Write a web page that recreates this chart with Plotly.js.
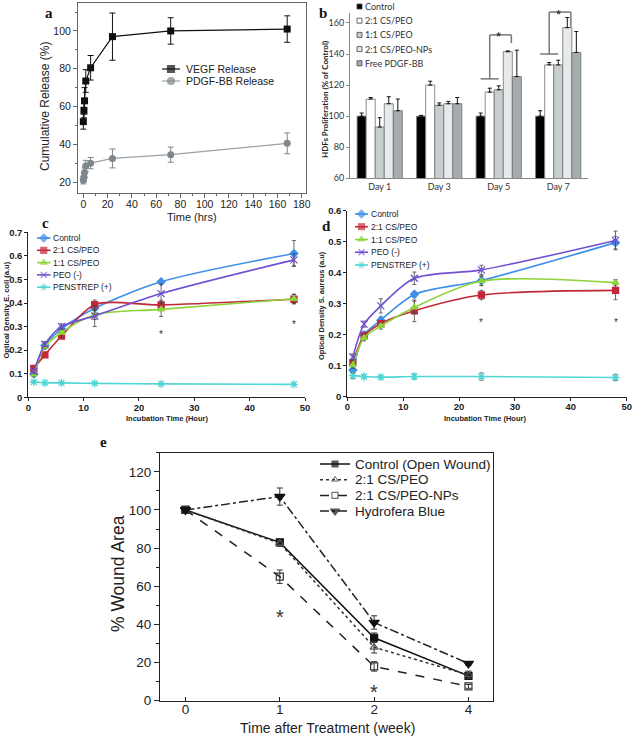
<!DOCTYPE html>
<html>
<head>
<meta charset="utf-8">
<script src="https://cdn.plot.ly/plotly-3.0.1.min.js"></script>
<style>
  html, body { margin: 0; padding: 0; background: #fff; }
  #fig { width: 634px; height: 739px; }
</style>
</head>
<body>
<div id="fig"></div>
<script>
// ---- a: cumulative growth factor release ----
const releaseHours = [0, 0.5, 1, 2, 6, 24, 72, 168];
const vegfRelease = [52, 58, 63, 73.5, 80.5, 97, 100, 101];
const vegfErr = [4, 4, 7, 6, 6.5, 12.5, 7, 7];
const pdgfRelease = [21, 22.5, 25, 28.5, 30, 32.5, 34.5, 40.5];
const pdgfErr = [2, 2, 2.5, 3, 3, 5, 4, 5.5];

// ---- b: HDF proliferation ----
const dayLabels = ['Day 1', 'Day 3', 'Day 5', 'Day 7'];
const hdfNames = ['Control', '2:1 CS/PEO', '1:1 CS/PEO', '2:1 CS/PEO-NPs', 'Free PDGF-BB'];
const hdfControl = [100, 100, 100, 100];
const hdfControlErr = [2, 0.5, 2, 3.5];
const hdfCs21 = [111, 120, 115.5, 133];
const hdfCs21Err = [1, 2.5, 2.5, 1.5];
const hdfCs11 = [93, 107, 117, 133];
const hdfCs11Err = [6, 1.5, 2.5, 3];
const hdfNps = [108, 108, 141.5, 157];
const hdfNpsErr = [4.5, 1.5, 0.5, 6.5];
const hdfFree = [103.5, 108, 125.5, 141];
const hdfFreeErr = [7.5, 4, 17, 13.5];

// ---- c / d: bacterial growth ----
const incubHours = [1, 3, 6, 12, 24, 48];
const bactNames = ['Control', '2:1 CS/PEO', '1:1 CS/PEO', 'PEO (-)', 'PENSTREP (+)'];
const ecoliControl = [0.10, 0.22, 0.29, 0.378, 0.49, 0.61];
const ecoliControlErr = [0.01, 0.01, 0.015, 0.02, 0.01, 0.055];
const ecoliCs21 = [0.123, 0.18, 0.26, 0.393, 0.392, 0.416];
const ecoliCs21Err = [0.01, 0.008, 0.01, 0.02, 0.02, 0.02];
const ecoliCs11 = [0.097, 0.215, 0.275, 0.35, 0.373, 0.418];
const ecoliCs11Err = [0.01, 0.01, 0.02, 0.02, 0.03, 0.02];
const ecoliPeo = [0.11, 0.225, 0.30, 0.345, 0.44, 0.583];
const ecoliPeoErr = [0.01, 0.01, 0.012, 0.045, 0.04, 0.025];
const ecoliPen = [0.065, 0.062, 0.061, 0.059, 0.057, 0.055];
const ecoliPenErr = [0.005, 0.004, 0.004, 0.004, 0.004, 0.005];

const saurControl = [0.086, 0.20, 0.247, 0.33, 0.375, 0.497];
const saurControlErr = [0.005, 0.01, 0.01, 0.01, 0.015, 0.02];
const saurCs21 = [0.11, 0.196, 0.236, 0.277, 0.328, 0.343];
const saurCs21Err = [0.01, 0.01, 0.01, 0.035, 0.015, 0.03];
const saurCs11 = [0.102, 0.19, 0.228, 0.288, 0.373, 0.368];
const saurCs11Err = [0.01, 0.01, 0.01, 0.02, 0.015, 0.01];
const saurPeo = [0.128, 0.234, 0.293, 0.382, 0.409, 0.504];
const saurPeoErr = [0.01, 0.01, 0.023, 0.02, 0.015, 0.03];
const saurPen = [0.068, 0.065, 0.063, 0.065, 0.065, 0.062];
const saurPenErr = [0.01, 0.005, 0.005, 0.008, 0.012, 0.01];

// ---- e: wound closure ----
const woundWeeks = ['0', '1', '2', '4'];
const woundNames = ['Control (Open Wound)', '2:1 CS/PEO', '2:1 CS/PEO-NPs', 'Hydrofera Blue'];
const woundControl = [100, 83, 33, 13];
const woundControlErr = [0, 1, 2.5, 1.5];
const woundCs21 = [100, 82.5, 28, 13.5];
const woundCs21Err = [0, 1.5, 3, 2];
const woundNps = [100, 65, 18, 7.5];
const woundNpsErr = [0, 3.5, 2.5, 1];
const woundHydro = [100, 107, 41, 19.5];
const woundHydroErr = [0, 4.5, 3.5, 1];

const W = 634, H = 739;
function pxX(x) { return x / W; }
function pxY(y) { return 1 - y / H; }

const SANS = 'Liberation Sans, Arial, sans-serif';
const CAL = 'Lato, Open Sans, sans-serif';
const bactColors = ['#3f8fe8', '#c2283a', '#8cd43a', '#7050d0', '#50d6d6'];
const bactSymbols = ['diamond', 'square', 'triangle-up', 'x-thin-open', 'asterisk-open'];
const hdfColors = ['#000000', '#ffffff', '#c8cecf', '#e6eaea', '#a4acad'];

var traces = [];

// panel a
traces.push({
  x: releaseHours, y: vegfRelease, xaxis: 'x', yaxis: 'y', mode: 'lines+markers',
  line: {color: '#111', width: 1.2}, marker: {symbol: 'square', size: 7, color: '#111'},
  error_y: {type: 'data', array: vegfErr, color: '#111', thickness: 1, width: 3}
});
traces.push({
  x: releaseHours, y: pdgfRelease, xaxis: 'x', yaxis: 'y', mode: 'lines+markers',
  line: {color: '#9aa0a3', width: 1.2}, marker: {symbol: 'circle', size: 7, color: '#7d878c'},
  error_y: {type: 'data', array: pdgfErr, color: '#7d878c', thickness: 1, width: 3}
});

// panel b
const hdfVals = [hdfControl, hdfCs21, hdfCs11, hdfNps, hdfFree];
const hdfErrs = [hdfControlErr, hdfCs21Err, hdfCs11Err, hdfNpsErr, hdfFreeErr];
hdfNames.forEach(function (n, i) {
  traces.push({
    type: 'bar', name: n, x: dayLabels, y: hdfVals[i], xaxis: 'x2', yaxis: 'y2',
    marker: {color: hdfColors[i], line: {color: '#707070', width: 0.8}},
    error_y: {type: 'data', symmetric: false, array: hdfErrs[i], arrayminus: hdfErrs[i].map(function () { return 0; }),
              color: '#111', thickness: 1, width: 2}
  });
});

// panel c and d
function bactTraces(vals, errs, xa, ya) {
  vals.forEach(function (v, i) {
    traces.push({
      x: incubHours, y: v, xaxis: xa, yaxis: ya, mode: 'lines+markers',
      line: {color: bactColors[i], width: 1.6, shape: 'spline', smoothing: 0.8},
      marker: {symbol: bactSymbols[i], size: i === 3 || i === 4 ? 7 : 6, color: bactColors[i],
               line: {color: bactColors[i], width: 1.3}},
      error_y: {type: 'data', array: errs[i], color: '#444', thickness: 0.8, width: 2}
    });
  });
}
bactTraces([ecoliControl, ecoliCs21, ecoliCs11, ecoliPeo, ecoliPen],
           [ecoliControlErr, ecoliCs21Err, ecoliCs11Err, ecoliPeoErr, ecoliPenErr], 'x3', 'y3');
bactTraces([saurControl, saurCs21, saurCs11, saurPeo, saurPen],
           [saurControlErr, saurCs21Err, saurCs11Err, saurPeoErr, saurPenErr], 'x4', 'y4');

// panel e
const woundVals = [woundControl, woundCs21, woundNps, woundHydro];
const woundErrs = [woundControlErr, woundCs21Err, woundNpsErr, woundHydroErr];
const woundDash = ['solid', 'dot', 'dash', 'dashdot'];
const woundSymbols = ['square', 'triangle-up-open', 'square-open', 'triangle-down'];
const woundLineColors = ['#111', '#333', '#222', '#222'];
const woundMarkColors = ['#111', '#555', '#333', '#111'];
woundVals.forEach(function (v, i) {
  traces.push({
    x: woundWeeks, y: v, xaxis: 'x5', yaxis: 'y5', mode: 'lines+markers',
    line: {color: woundLineColors[i], width: 1.5, dash: woundDash[i]},
    marker: {symbol: woundSymbols[i], size: i === 3 ? 9 : 7, color: woundMarkColors[i],
             line: {color: woundMarkColors[i], width: 1.2}},
    error_y: {type: 'data', array: woundErrs[i], color: '#333', thickness: 1, width: 3}
  });
});

// ---- hand-made legends on a full-page overlay axis (pixel units) ----
var annotations = [];
function txt(text, x, y, size, opts) {
  annotations.push(Object.assign({
    text: text, x: x, y: y, xref: 'x6', yref: 'y6', showarrow: false,
    font: {family: SANS, size: size, color: '#222'}, xanchor: 'left', yanchor: 'middle'
  }, opts || {}));
}
function legendSample(x0, x1, y, color, width, dash, symbol, size, mcolor) {
  traces.push({
    x: [x0, (x0 + x1) / 2, x1], y: [y, y, y], xaxis: 'x6', yaxis: 'y6', mode: 'lines+markers',
    line: {color: color, width: width, dash: dash},
    marker: {symbol: symbol, size: [0, size, 0], color: mcolor, line: {color: mcolor, width: 1.2}},
    hoverinfo: 'skip'
  });
}

// legend a
legendSample(162, 180, 69, '#111', 1.2, 'solid', 'square', 7, '#111');
legendSample(162, 180, 81, '#9aa0a3', 1.2, 'solid', 'circle', 7, '#7d878c');
txt('VEGF Release', 184, 69, 10.5);
txt('PDGF-BB Release', 184, 81, 10.5);

// legend b
hdfNames.forEach(function (n, i) {
  var y = 6.5 + i * 14.2;
  traces.push({
    x: [359.5], y: [y], xaxis: 'x6', yaxis: 'y6', mode: 'markers', hoverinfo: 'skip',
    marker: {symbol: 'square', size: 5, color: hdfColors[i], line: {color: '#444', width: 0.8}}
  });
  txt(n, 363, y, 9, {font: {family: CAL, size: 9, color: '#333'}});
});

// legends c and d
bactNames.forEach(function (n, i) {
  var yc = 238 + i * 12.3;
  legendSample(37, 50.5, yc, bactColors[i], 1.6, 'solid', bactSymbols[i], 6, bactColors[i]);
  txt(n, 50.5, yc, 8.5);
  var yd = 214 + i * 12.75;
  legendSample(355, 368, yd, bactColors[i], 1.6, 'solid', bactSymbols[i], 6, bactColors[i]);
  txt(n, 368.5, yd, 8.5);
});

// legend e
woundNames.forEach(function (n, i) {
  var y = 464 + i * 15.7;
  legendSample(320, 350, y, woundLineColors[i], 1.5, woundDash[i], woundSymbols[i], i === 3 ? 8 : 6, woundMarkColors[i]);
  txt(n, 353, y, 13.5);
});

// axis titles and panel letters
txt('Time (hrs)', 192, 217, 11, {xanchor: 'center'});
txt('Cumulative Release (%)', 45, 107, 12, {xanchor: 'center', textangle: -90});
txt('<b>HDFs Proliferation (% of Control)</b>', 325, 100, 8, {xanchor: 'center', textangle: -90, font: {family: CAL, size: 8, color: '#222'}});
txt('<b>Incubation Time (Hour)</b>', 167, 418, 7.5, {xanchor: 'center'});
txt('<b>Optical Density E. coli (a.u)</b>', 5.5, 310, 7.5, {xanchor: 'center', textangle: -90});
txt('<b>Incubation Time (Hour)</b>', 485, 418, 7.5, {xanchor: 'center'});
txt('<b>Optical Density S. aureus (a.u)</b>', 321, 306, 7.5, {xanchor: 'center', textangle: -90});
txt('Time after Treatment (week)', 327, 728, 14, {xanchor: 'center'});
txt('% Wound Area', 118, 574, 17.5, {xanchor: 'center', textangle: -90});
var LETTER = {family: 'Liberation Serif, serif', size: 15, color: '#111', weight: 'bold'};
txt('a', 49, 13, 15, {xanchor: 'center', font: LETTER});
txt('b', 323, 13, 15, {xanchor: 'center', font: LETTER});
txt('c', 45, 223, 15, {xanchor: 'center', font: LETTER});
txt('d', 326, 226, 15, {xanchor: 'center', font: LETTER});
txt('e', 103, 442, 15, {xanchor: 'center', font: LETTER});

// significance marks
function star(x, y, xa, ya, size) {
  annotations.push({text: '*', x: x, y: y, xref: xa, yref: ya, showarrow: false,
    font: {family: SANS, size: size, color: '#333'}, yshift: -size * 0.22});
}
star(24, 0.275, 'x3', 'y3', 10);
star(48, 0.32, 'x3', 'y3', 10);
star(24, 0.245, 'x4', 'y4', 10);
star(48, 0.245, 'x4', 'y4', 10);
star('1', 46, 'x5', 'y5', 20);
star('2', 7, 'x5', 'y5', 20);

// brackets in panel b (bar offsets within a group of 5, bargap 0.24)
const B_RANGE = [60, 166.4];
const barW = 0.76 / 5;
function barOff(i) { return -0.38 + barW * (i + 0.5); }
function dom(v) { return (v - B_RANGE[0]) / (B_RANGE[1] - B_RANGE[0]); }
const sigDay = [2, 3];
const sigLow = [124, 140];
const sigHigh = [152.3, 167];
const sigEnd = [147, 157];
const sigStar = [157.5, 171.5];
var shapes = [];
sigDay.forEach(function (d, k) {
  var xa = d + barOff(0), xb = d + barOff(2), xv = d + barOff(1), xr = d + barOff(3) + 0.06;
  var segs = [[xa, sigLow[k], xb, sigLow[k]], [xv, sigLow[k], xv, sigHigh[k]],
              [xv, sigHigh[k], xr, sigHigh[k]], [xr, sigHigh[k], xr, sigEnd[k]]];
  segs.forEach(function (s) {
    shapes.push({type: 'line', xref: 'x2', yref: 'y2 domain', x0: s[0], y0: dom(s[1]), x1: s[2], y1: dom(s[3]),
                 line: {color: '#777', width: 1.5}});
  });
  annotations.push({text: '*', x: d + barOff(2), y: dom(sigStar[k]), xref: 'x2', yref: 'y2 domain',
    showarrow: false, font: {family: SANS, size: 13, color: '#222'}});
});

function ax(extra) {
  return Object.assign({showgrid: false, zeroline: false, showline: true, linewidth: 1,
    ticks: 'outside', fixedrange: true}, extra);
}
const fA = {family: SANS, size: 10.5, color: '#222'};
const fB = {family: CAL, size: 9, color: '#333'};
const fC = {family: SANS, size: 9.5, color: '#222', weight: 'bold'};
const fE = {family: SANS, size: 13.5, color: '#222'};

var layout = {
  width: W, height: H, margin: {l: 0, r: 0, t: 0, b: 0},
  paper_bgcolor: '#fff', plot_bgcolor: 'rgba(0,0,0,0)', showlegend: false,
  barmode: 'group', bargap: 0.24, bargroupgap: 0,
  xaxis: ax({domain: [pxX(78), pxX(306)], anchor: 'y', range: [-4.4, 183.5], tick0: 0, dtick: 20,
    mirror: true, linecolor: '#666', tickcolor: '#666', ticklen: 4, tickfont: fA, ticklabelstandoff: -3,
    minor: {ticks: 'outside', ticklen: 2, dtick: 10, tickcolor: '#666'}}),
  yaxis: ax({domain: [pxY(193), pxY(3)], anchor: 'x', range: [14.2, 114.8], tick0: 0, dtick: 20,
    mirror: true, linecolor: '#666', tickcolor: '#666', ticklen: 4, tickfont: fA,
    minor: {ticks: 'outside', ticklen: 2, dtick: 10, tickcolor: '#666'}}),
  xaxis2: ax({domain: [pxX(350), pxX(588)], anchor: 'y2', type: 'category', range: [-0.5, 3.5],
    ticks: '', linecolor: '#888', tickfont: fB}),
  yaxis2: ax({domain: [pxY(178.3), pxY(13)], anchor: 'x2', range: B_RANGE, tick0: 0, dtick: 20,
    linecolor: '#888', tickcolor: '#888', ticklen: 3, tickfont: fB}),
  xaxis3: ax({domain: [pxX(28.3), pxX(305)], anchor: 'y3', range: [0, 50], dtick: 10,
    linecolor: '#222', tickcolor: '#222', ticklen: 3, tickfont: fC, ticklabelstandoff: -2}),
  yaxis3: ax({domain: [pxY(397.3), pxY(232.3)], anchor: 'x3', range: [0, 0.7], dtick: 0.1,
    linecolor: '#222', tickcolor: '#222', ticklen: 3, tickfont: fC}),
  xaxis4: ax({domain: [pxX(347.3), pxX(626.7)], anchor: 'y4', range: [0, 50], dtick: 10,
    linecolor: '#222', tickcolor: '#222', ticklen: 3, tickfont: fC, ticklabelstandoff: -2}),
  yaxis4: ax({domain: [pxY(396.7), pxY(210.7)], anchor: 'x4', range: [0, 0.6], dtick: 0.1,
    linecolor: '#222', tickcolor: '#222', ticklen: 3, tickfont: fC}),
  xaxis5: ax({domain: [pxX(160), pxX(493)], anchor: 'y5', type: 'category', range: [-0.27, 3.26],
    mirror: true, linecolor: '#222', tickcolor: '#222', ticks: 'inside', ticklen: 4, tickfont: fE,
    ticklabelstandoff: -4}),
  yaxis5: ax({domain: [pxY(700.7), pxY(452.7)], anchor: 'x5', range: [0, 130], tick0: 0, dtick: 20,
    mirror: true, linecolor: '#222', tickcolor: '#222', ticklen: 5, tickfont: fE,
    minor: {ticks: 'outside', ticklen: 3, dtick: 10, tickcolor: '#222'}}),
  xaxis6: {domain: [0, 1], anchor: 'y6', range: [0, W], visible: false, fixedrange: true},
  yaxis6: {domain: [0, 1], anchor: 'x6', range: [H, 0], visible: false, fixedrange: true},
  annotations: annotations,
  shapes: shapes
};

Plotly.newPlot('fig', traces, layout, {staticPlot: true, displayModeBar: false});
</script>
</body>
</html>
